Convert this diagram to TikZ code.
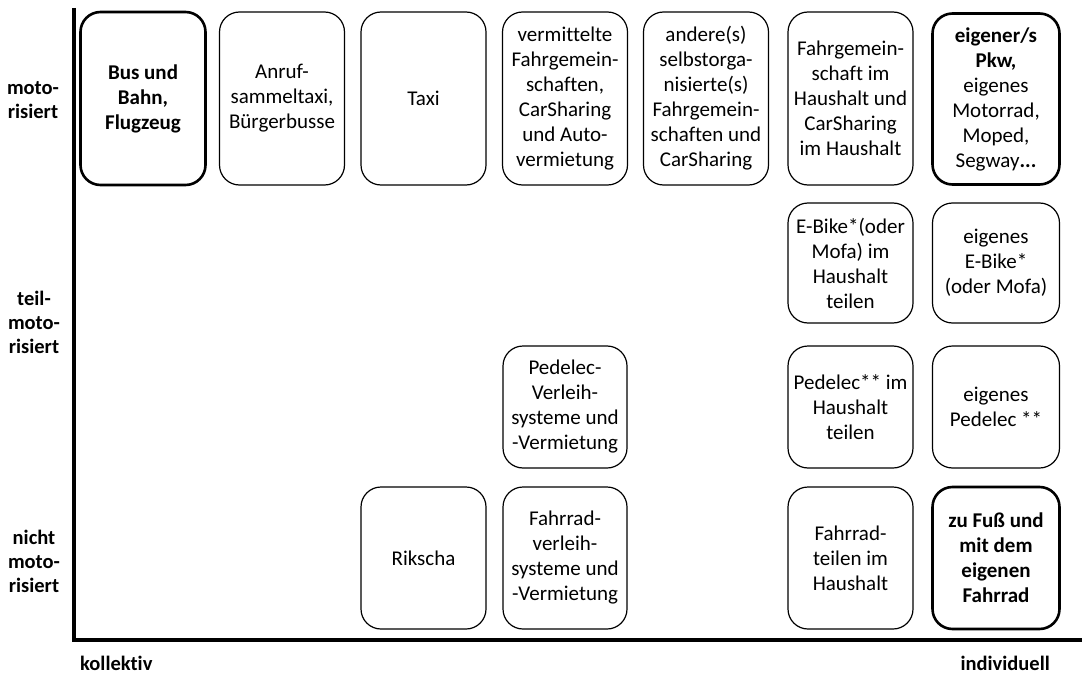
\documentclass[tikz,border=0pt]{standalone}
\usepackage{fontspec}
\setmainfont[Ligatures=NoCommon]{Carlito}
\begin{document}
\begin{tikzpicture}[x=1pt,y=-1pt,
  every node/.style={font=\fontsize{21}{25}\selectfont, align=center, inner sep=0pt},
  box/.style={draw, line width=1.2pt, rounded corners=20pt},
  boldbox/.style={box, line width=2.6pt, font=\fontsize{21}{25}\selectfont\bfseries},
  rowA/.style={minimum height=173pt},
  rowB/.style={minimum height=120pt},
  rowC/.style={minimum height=122pt},
  rowD/.style={minimum height=142pt},
  colw/.style={minimum width=125pt},
  lab/.style={font=\fontsize{20.5}{24}\selectfont\bfseries},
  axis/.style={line width=4.5pt}]
\useasboundingbox (0,0) rectangle (1082,677);
% row 1
\node[boldbox, rowA, colw] (bus) at (143,98.5) {Bus und\\Bahn,\\Flugzeug};
\node[box, rowA, colw] (anruf) at (282,98.5) {Anruf-\\sammeltaxi,\\Bürgerbusse};
\node[box, rowA, colw] (taxi) at (423.5,98.5) {Taxi};
\node[box, rowA, colw] (verm) at (565,98.5) {vermittelte\\Fahrgemein-\\schaften,\\CarSharing\\und Auto-\\vermietung};
\node[box, rowA, colw] (andere) at (706,98.5) {andere(s)\\selbstorga-\\nisierte(s)\\Fahrgemein-\\schaften und\\CarSharing};
\node[box, rowA, colw] (fghh) at (850.5,98.5) {Fahrgemein-\\schaft im\\Haushalt und\\CarSharing\\im Haushalt};
\node[box, line width=2.6pt, minimum height=171pt, minimum width=127pt] (pkw) at (996,99) {\textbf{eigener/s}\\\textbf{Pkw,}\\eigenes\\Motorrad,\\Moped,\\Segway\textbf{...}};
% row 2
\node[box, rowB, colw] (ebikehh) at (850.5,263) {E-Bike*(oder\\Mofa) im\\Haushalt\\teilen};
\node[box, rowB, minimum width=127pt] (ebike) at (996,263) {eigenes\\E-Bike*\\(oder Mofa)};
% row 3
\node[box, rowC, minimum width=124pt] (pverleih) at (565,407) {Pedelec-\\Verleih-\\systeme und\\-Vermietung};
\node[box, rowC, colw] (pedhh) at (850.5,407) {Pedelec** im\\Haushalt\\teilen};
\node[box, rowC, minimum width=127pt] (ped) at (996,407) {eigenes\\Pedelec **};
% row 4
\node[box, rowD, colw] (riksch) at (423.5,558) {Rikscha};
\node[box, rowD, minimum width=124pt] (fverleih) at (565,558) {Fahrrad-\\verleih-\\systeme und\\-Vermietung};
\node[box, rowD, colw] (fhh) at (850.5,558) {Fahrrad-\\teilen im\\Haushalt};
\node[boldbox, rowD, minimum width=127pt] (fuss) at (996,558) {zu Fuß und\\mit dem\\eigenen\\Fahrrad};
% axes
\coordinate (top) at (74,8);
\coordinate (origin) at (74,640);
\coordinate (right) at (1082,640);
\draw[axis] (top) -- (origin);
\draw[axis] (72,640) -- (right);
% labels
\node[lab] (lmot) at (33,100) {moto-\\risiert};
\node[lab] (lteil) at (34,322) {teil-\\moto-\\risiert};
\node[lab] (lnicht) at (34,561) {nicht\\moto-\\risiert};
\node[lab, anchor=west] (koll) at (80,663) {kollektiv};
\node[lab, anchor=east] (indiv) at (1050,663) {individuell};
\end{tikzpicture}
\end{document}
